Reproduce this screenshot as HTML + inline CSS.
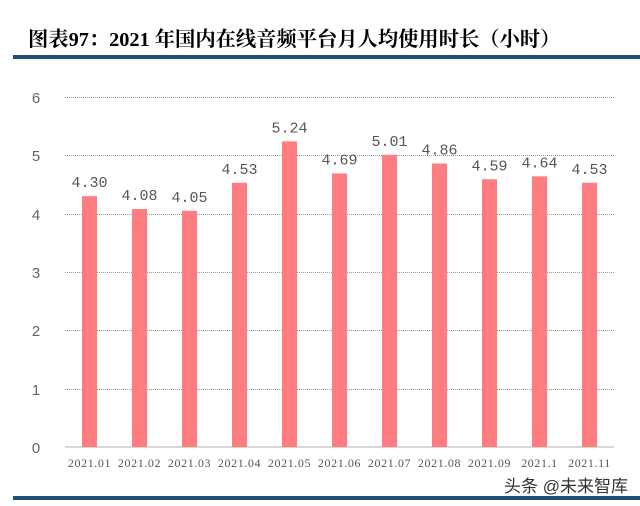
<!DOCTYPE html>
<html><head><meta charset="utf-8"><style>
body{margin:0;background:#fff;width:640px;height:506px;overflow:hidden;position:relative;font-family:"Liberation Serif","Noto Serif CJK SC",serif}
</style></head><body>
<svg width="640" height="506" style="position:absolute;left:0;top:0">
<text x="28" y="46" font-size="20.3" font-weight="bold" fill="#000" font-family="Liberation Serif, Noto Serif CJK SC, serif">图表97：2021 年国内在线音频平台月人均使用时长（小时）</text>
<rect x="13" y="55" width="627" height="4" fill="#1f4e79"/>
<rect x="13" y="496" width="627" height="4" fill="#1f4e79"/>
<g stroke="#999" stroke-dasharray="1,1" stroke-width="1">
<line x1="65" x2="614" y1="97.5" y2="97.5"/><line x1="65" x2="614" y1="155.5" y2="155.5"/>
<line x1="65" x2="614" y1="214.5" y2="214.5"/><line x1="65" x2="614" y1="272.5" y2="272.5"/>
<line x1="65" x2="614" y1="330.5" y2="330.5"/><line x1="65" x2="614" y1="389.5" y2="389.5"/>
</g>
<line x1="65" x2="614" y1="447" y2="447" stroke="#ccc" stroke-width="1.5"/>
<g font-size="15" fill="#666" text-anchor="middle" font-family="Liberation Sans, sans-serif">
<text x="36" y="103">6</text><text x="36" y="161">5</text><text x="36" y="220">4</text>
<text x="36" y="278">3</text><text x="36" y="336">2</text><text x="36" y="395">1</text><text x="36" y="453">0</text>
</g>
<g fill="#ff7c80" id="b"></g>
<g id="l" font-size="15" fill="#555" text-anchor="middle" font-family="Liberation Mono, monospace"></g>
<g id="x" font-size="12" fill="#555" text-anchor="middle" letter-spacing="0.6" font-family="Liberation Serif, serif"></g>
<text x="566" y="492" font-size="17" fill="#333" text-anchor="middle" font-family="Liberation Sans, Noto Sans CJK SC, sans-serif">头条 @未来智库</text>
</svg>
<script>
var v=[4.30,4.08,4.05,4.53,5.24,4.69,5.01,4.86,4.59,4.64,4.53],n=["2021.01","2021.02","2021.03","2021.04","2021.05","2021.06","2021.07","2021.08","2021.09","2021.1","2021.11"];
var b=document.getElementById('b'),l=document.getElementById('l'),x=document.getElementById('x'),s='',t='',u='';
v.forEach(function(d,i){var c=89.5+50*i,h=d*58.33,y=447-h;
s+='<rect x="'+(c-7.5)+'" y="'+y+'" width="15" height="'+h+'"/>';
t+='<text x="'+c+'" y="'+(y-9)+'">'+d.toFixed(2)+'</text>';
u+='<text x="'+c+'" y="467">'+n[i]+'</text>';});
b.innerHTML=s;l.innerHTML=t;x.innerHTML=u;
</script>
</body></html>
